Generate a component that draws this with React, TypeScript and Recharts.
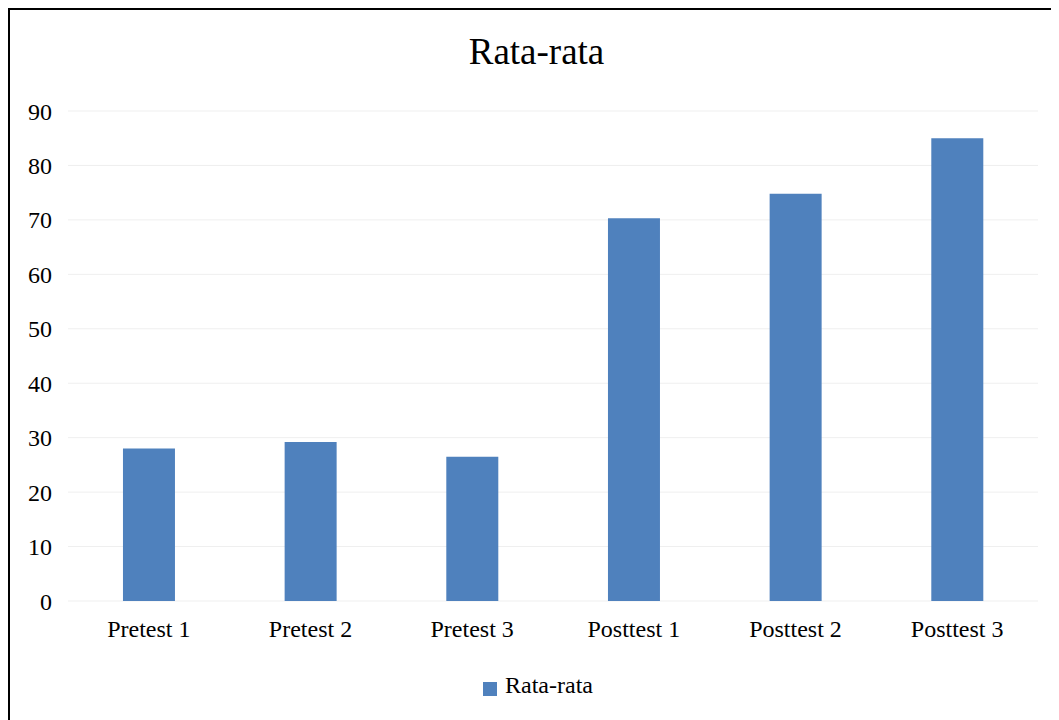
import React from 'react';
import { BarChart, Bar, XAxis, YAxis, CartesianGrid, Legend } from 'recharts';

const categories = ['Pretest 1', 'Pretest 2', 'Pretest 3', 'Posttest 1', 'Posttest 2', 'Posttest 3'];
const rataRata = [28, 29.2, 26.5, 70.3, 74.8, 85];
const yTicks = [0, 10, 20, 30, 40, 50, 60, 70, 80, 90];

const data = categories.map((name, i) => ({ name, value: rataRata[i] }));

const font = '"Liberation Serif", "Times New Roman", serif';

export default function App() {
  return (
    <div style={{ width: 1051, height: 712, overflow: 'hidden' }}>
      <div
        style={{
          position: 'relative',
          width: 1070,
          height: 730,
          border: '2px solid #000',
          boxSizing: 'border-box',
          background: '#fff',
          fontFamily: font,
        }}
      >
        <div
          style={{
            position: 'absolute',
            top: 20,
            left: 2,
            width: 1049,
            textAlign: 'center',
            fontSize: 37,
            color: '#000',
          }}
        >
          Rata-rata
        </div>
        <BarChart
          width={1049}
          height={710}
          data={data}
          margin={{ top: 101, right: 21, bottom: 32, left: 0 }}
          barCategoryGap="34%"
        >
          <CartesianGrid vertical={false} stroke="#efefef" />
          <XAxis
            dataKey="name"
            axisLine={false}
            tickLine={false}
            tickSize={0}
            tickMargin={19}
            height={60}
            tick={{ fill: '#000', fontSize: 24, fontFamily: font }}
          />
          <YAxis
            domain={[0, 90]}
            ticks={yTicks}
            axisLine={false}
            tickLine={false}
            tickSize={0}
            tickMargin={16}
            width={58}
            tick={{ fill: '#000', fontSize: 24, fontFamily: font }}
          />
          <Legend
            verticalAlign="bottom"
            iconType="square"
            iconSize={14}
            wrapperStyle={{ bottom: 21, left: 19 }}
            formatter={(v) => (
              <span style={{ color: '#000', fontSize: 24, fontFamily: font, marginLeft: 4 }}>{v}</span>
            )}
          />
          <Bar dataKey="value" name="Rata-rata" fill="#4f81bd" isAnimationActive={false} />
        </BarChart>
      </div>
    </div>
  );
}
